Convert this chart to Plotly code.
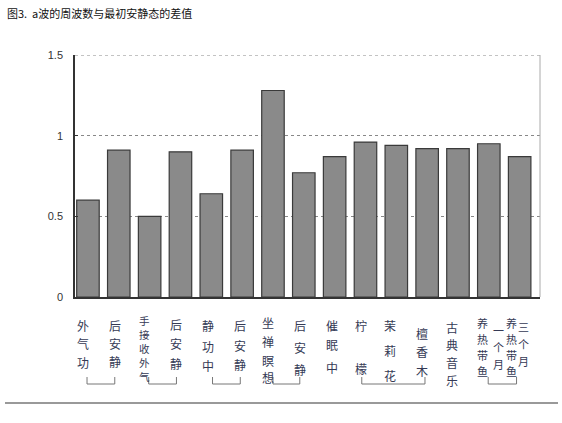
import plotly.graph_objects as go

# ---- data ----
categories = ["外气功", "后安静", "手接收外气", "后安静", "静功中", "后安静",
              "坐禅瞑想", "后安静", "催眠中", "柠檬", "茉莉花", "檀香木",
              "古典音乐", "养热带鱼一个月", "养热带鱼三个月"]
values = [0.60, 0.91, 0.50, 0.90, 0.64, 0.91, 1.28, 0.77, 0.87, 0.96,
          0.94, 0.92, 0.92, 0.95, 0.87]
y_tick_vals = [0, 0.5, 1, 1.5]
y_tick_text = ["0", "0.5", "1", "1.5"]
title_text = "图3.  a波的周波数与最初安静态的差值"

# vertical label columns: (category index, offset, characters, char centre y in px, font size)
label_columns = [
    (0, -0.16, "外气功", [325, 343, 362], 12),
    (1, -0.13, "后安静", [325, 343, 361], 12),
    (2, -0.16, "手接收外气", [320, 334, 348, 362, 376], 10.5),
    (3, -0.13, "后安静", [324, 343, 363], 12),
    (4, -0.10, "静功中", [325, 346, 365], 12),
    (5, -0.07, "后安静", [325, 345, 364], 12),
    (6, -0.16, "坐禅瞑想", [322, 341, 360, 377], 12),
    (7, -0.13, "后安静", [325, 347, 369], 12),
    (8, -0.10, "催眠中", [325, 344, 367], 12),
    (9, -0.13, "柠檬", [325, 368], 12),
    (10, -0.20, "茉莉花", [325, 350, 375], 12),
    (11, -0.16, "檀香木", [333, 351, 370], 12),
    (12, -0.20, "古典音乐", [327, 344, 362, 380], 12),
    (13, -0.20, "养热带鱼", [323, 339, 355, 371], 11),
    (13, 0.30, "一个月", [330, 347, 364], 11),
    (14, -0.25, "养热带鱼", [323, 339, 355, 371], 11),
    (14, 0.14, "三个月", [327, 344, 361], 11),
]
# brackets: (left x, right x) in category units
brackets = [(-0.03, 0.87), (1.97, 2.87), (4.04, 4.94), (6.0, 6.87),
            (8.88, 10.93), (12.98, 13.9)]

# ---- geometry helpers (pixels -> paper) ----
W, H = 562, 423
ML, MR, MT, MB = 75, 22, 55, 126
PW, PH = W - ML - MR, H - MT - MB


def py(p):
    return (H - MB - p) / PH


def px(p):
    return (p - ML) / PW


fig = go.Figure()
fig.add_trace(go.Bar(
    x=list(range(len(values))), y=values, width=0.73,
    marker=dict(color="#8a8a8a", line=dict(color="#3a3a3a", width=1.2)),
    hovertext=categories, hoverinfo="text+y",
))

annotations = []
for idx, off, chars, ys, fs in label_columns:
    for ch, yy in zip(chars, ys):
        annotations.append(dict(
            x=idx + off, y=py(yy), xref="x", yref="paper", text=ch,
            showarrow=False, xanchor="center", yanchor="middle",
            font=dict(family="Noto Sans CJK SC", size=fs, color="#353a55"),
        ))
annotations.append(dict(
    x=px(5), y=py(13), xref="paper", yref="paper", text=title_text,
    showarrow=False, xanchor="left", yanchor="middle",
    font=dict(family="Noto Sans CJK SC", size=11, color="#111"),
))

shapes = []
for x0, x1 in brackets:
    shapes.append(dict(type="path", xref="x", yref="paper",
                       path=f"M {x0},{py(377)} L {x0},{py(384)} L {x1},{py(384)} L {x1},{py(377)}",
                       line=dict(color="#777", width=1)))
# top dashed gridline (at the range edge)
shapes.append(dict(type="line", xref="paper", yref="y", x0=0, x1=1,
                   y0=y_tick_vals[-1], y1=y_tick_vals[-1],
                   line=dict(color="#888", width=1, dash="3px,3px")))
# right border
shapes.append(dict(type="line", xref="paper", yref="paper", x0=1, x1=1, y0=0, y1=1,
                   line=dict(color="#aaa", width=1)))
# page separator line
shapes.append(dict(type="line", xref="paper", yref="paper", x0=px(5), x1=px(558),
                   y0=py(403), y1=py(403), line=dict(color="#777", width=1.5)))

fig.update_layout(
    width=W, height=H,
    margin=dict(l=ML, r=MR, t=MT, b=MB),
    paper_bgcolor="white", plot_bgcolor="white",
    showlegend=False,
    annotations=annotations,
    shapes=shapes,
    xaxis=dict(range=[-0.42, 14.66], showticklabels=False, showgrid=False,
               zeroline=False, showline=True, linecolor="#333", linewidth=1.5,
               ticks=""),
    yaxis=dict(range=[0, 1.5], tickvals=y_tick_vals, ticktext=y_tick_text,
               showgrid=True, gridcolor="#888", griddash="3px,3px", gridwidth=1,
               zeroline=False, showline=True, linecolor="#333", linewidth=1.5,
               ticks="inside", ticklen=3, tickcolor="#333",
               tickfont=dict(family="Arial, Liberation Sans", size=11, color="#333"),
               ticklabelstandoff=8),
)

fig.write_html("out.html", config={"displayModeBar": False},
               post_script="document.body.style.margin='0';document.body.style.overflow='hidden';")
